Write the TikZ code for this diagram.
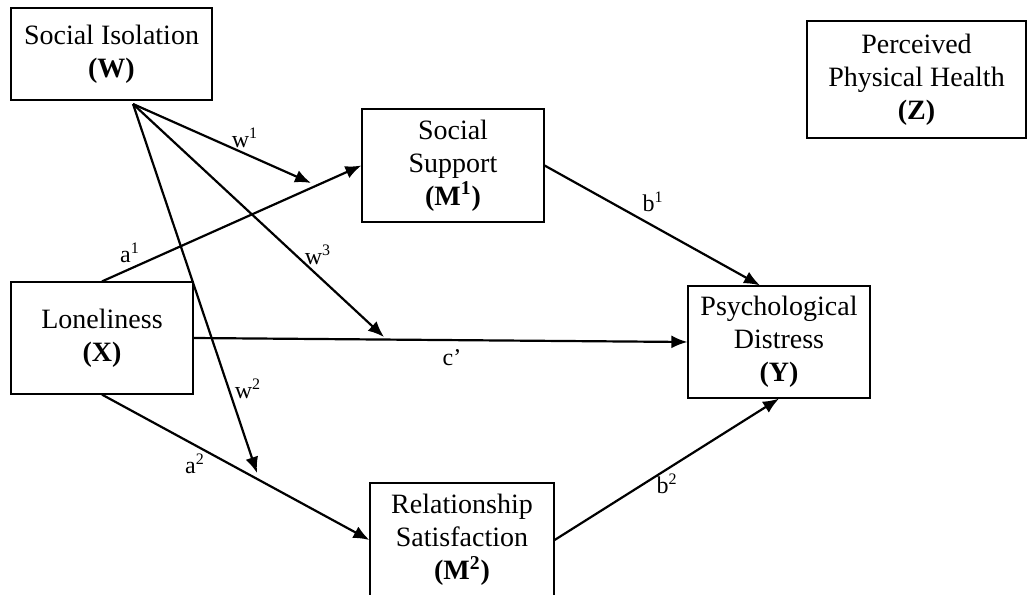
\documentclass[tikz,border=0pt]{standalone}
\usepackage{fontspec}
\setmainfont{Liberation Serif}
\usetikzlibrary{arrows.meta}

\begin{document}
\begin{tikzpicture}[x=0.5pt,y=-0.5pt,
  var/.style={draw,line width=0.6pt,inner sep=0pt,align=center,font=\fontsize{14}{16.5}\selectfont},
  effect/.style={line width=1.1pt,-{Latex[length=8pt,width=6.5pt]}},
  coef/.style={inner sep=0pt,font=\fontsize{12}{14}\selectfont}]
  \useasboundingbox (0,0) rectangle (1027,594);
  \node[var,minimum width=100.5pt,minimum height=46pt] (W) at (111.5,54) {Social Isolation\\\textbf{(W)}};
  \node[var,minimum width=91pt,minimum height=56.5pt] (M1) at (453,165.5) {Social\\Support\\\textbf{(M\textsuperscript{1})}};
  \node[var,minimum width=91pt,minimum height=56pt] (X) at (102,338) {Loneliness\\\textbf{(X)}};
  \node[var,minimum width=91pt,minimum height=56pt] (Y) at (779,342) {Psychological\\Distress\\\textbf{(Y)}};
  \node[var,minimum width=92pt,minimum height=57pt] (M2) at (462,540) {Relationship\\Satisfaction\\\textbf{(M\textsuperscript{2})}};
  \node[var,minimum width=109.5pt,minimum height=58.5pt] (Z) at (916.5,79.5) {Perceived\\Physical Health\\\textbf{(Z)}};
  \coordinate (wsrc) at (133,104); \coordinate (w1tip) at (311,183); \coordinate (w2tip) at (257,473); \coordinate (w3tip) at (384,337);
  \draw[effect] (X.north) -- (M1.west); \draw[effect] (X.east) -- (Y.west); \draw[effect] (X.south) -- (M2.west);
  \draw[effect] (M1.east) -- ([xshift=-9.5pt]Y.north); \draw[effect] (M2.east) -- (Y.south);
  \draw[effect] (wsrc) -- (w1tip); \draw[effect] (wsrc) -- (w2tip); \draw[effect] (wsrc) -- (w3tip);
  \node[coef] (lw1) at (245,138) {w\textsuperscript{1}}; \node[coef] (lw2) at (248,389) {w\textsuperscript{2}}; \node[coef] (lw3) at (318,255) {w\textsuperscript{3}};
  \node[coef] (la1) at (130,253) {a\textsuperscript{1}}; \node[coef] (la2) at (195,464) {a\textsuperscript{2}};
  \node[coef] (lb1) at (653,202) {b\textsuperscript{1}}; \node[coef] (lb2) at (667,484) {b\textsuperscript{2}}; \node[coef] (lc) at (452,358) {c’};
\end{tikzpicture}
\end{document}
